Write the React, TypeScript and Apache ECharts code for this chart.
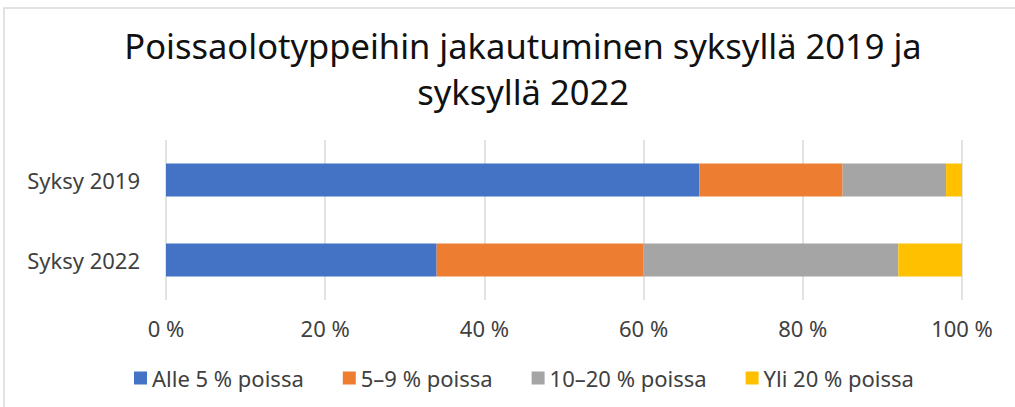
import React, { useEffect, useRef } from "react";
import * as echarts from "echarts";

const categories = ["Syksy 2022", "Syksy 2019"];
const seriesNames = ["Alle 5 % poissa", "5–9 % poissa", "10–20 % poissa", "Yli 20 % poissa"];
const alle5 = [34, 67];
const v5to9 = [26, 18];
const v10to20 = [32, 13];
const yli20 = [8, 2];
const colors = ["#4472C4", "#ED7D31", "#A5A5A5", "#FFC000"];
const titleText = "Poissaolotyppeihin jakautuminen syksyllä 2019 ja\nsyksyllä 2022";

const FONT = "'Noto Sans', sans-serif";

export default function App() {
  const ref = useRef<HTMLDivElement>(null);
  useEffect(() => {
    if (!ref.current) return;
    const chart = echarts.init(ref.current, undefined, { renderer: "svg" });
    const data = [alle5, v5to9, v10to20, yli20];
    chart.setOption({
      animation: false,
      backgroundColor: "#ffffff",
      textStyle: { fontFamily: FONT },
      title: {
        text: titleText,
        left: 518,
        top: 17,
        textAlign: "center",
        textStyle: { fontFamily: FONT, fontSize: 34.5, fontWeight: "normal", color: "#111", lineHeight: 46 },
      },
      graphic: [
        {
          type: "rect",
          shape: { x: 4, y: 8, width: 1020, height: 400 },
          style: { fill: "none", stroke: "#d9d9d9", lineWidth: 1.5 },
          silent: true,
        },
      ],
      legend: {
        data: seriesNames,
        top: 362,
        left: 129,
        itemWidth: 13,
        itemHeight: 13,
        itemGap: 39,
        icon: "rect",
        textStyle: { fontFamily: FONT, fontSize: 22, color: "#404040" },
      },
      grid: { left: 166, right: 53, top: 140, bottom: 107, containLabel: false },
      xAxis: {
        type: "value",
        min: 0,
        max: 100,
        interval: 20,
        axisLine: { show: false },
        axisTick: { show: false },
        splitLine: { show: true, lineStyle: { color: "#d9d9d9", width: 1.5 } },
        axisLabel: {
          formatter: (v: number) => `${v} %`,
          fontFamily: FONT,
          fontSize: 22,
          color: "#404040",
          margin: 17,
        },
      },
      yAxis: {
        type: "category",
        data: categories,
        axisLine: { show: false },
        axisTick: { show: false },
        axisLabel: { fontFamily: FONT, fontSize: 22, color: "#404040", margin: 26 },
      },
      series: seriesNames.map((name, i) => ({
        name,
        type: "bar",
        stack: "total",
        data: data[i],
        barWidth: 33,
        itemStyle: { color: colors[i] },
      })),
    });
    return () => chart.dispose();
  }, []);
  return (
    <div
      ref={ref}
      style={{ position: "absolute", left: 0, top: 0, width: 1015, height: 407 }}
    />
  );
}
